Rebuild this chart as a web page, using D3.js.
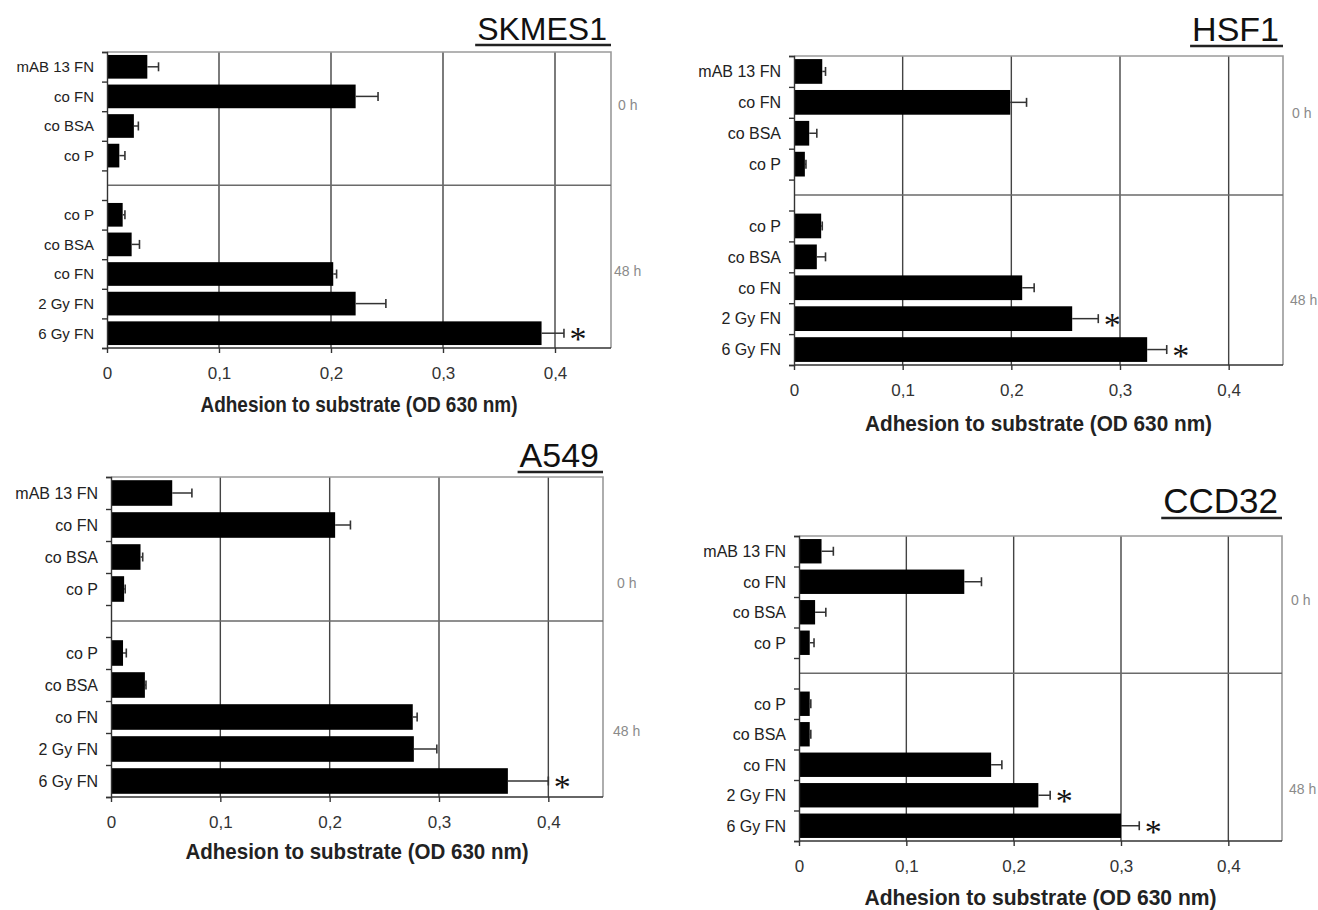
<!DOCTYPE html>
<html>
<head>
<meta charset="utf-8">
<script src="https://cdn.jsdelivr.net/npm/d3@7"></script>
<style>
body { margin: 0; background: #fff; }
svg { display: block; font-family: "Liberation Sans", Arial, sans-serif; }
</style>
</head>
<body>
<div id="container"></div>
<script>
// Row labels: the 0 h group on top, the 48 h group below
var labels0h = ['mAB 13 FN', 'co FN', 'co BSA', 'co P'];
var labels48h = ['co P', 'co BSA', 'co FN', '2 Gy FN', '6 Gy FN'];
var groupNames = ['0 h', '48 h'];
var xTicks = [0, 0.1, 0.2, 0.3, 0.4];
var xTickLabels = ['0', '0,1', '0,2', '0,3', '0,4'];
var axisTitle = 'Adhesion to substrate (OD 630 nm)';

// Means, error (SD) and significance, in row order labels0h then labels48h
var skmes1Mean = [0.036, 0.222, 0.024, 0.011, 0.014, 0.022, 0.202, 0.222, 0.388];
var skmes1Err  = [0.010, 0.020, 0.004, 0.005, 0.002, 0.007, 0.003, 0.027, 0.020];
var skmes1Sig  = [0, 0, 0, 0, 0, 0, 0, 0, 1];

var hsf1Mean = [0.026, 0.199, 0.014, 0.010, 0.025, 0.021, 0.210, 0.256, 0.325];
var hsf1Err  = [0.003, 0.015, 0.007, 0.001, 0.001, 0.008, 0.011, 0.024, 0.018];
var hsf1Sig  = [0, 0, 0, 0, 0, 0, 0, 1, 1];

var a549Mean = [0.056, 0.205, 0.027, 0.012, 0.011, 0.031, 0.276, 0.277, 0.363];
var a549Err  = [0.018, 0.014, 0.002, 0.001, 0.003, 0.001, 0.004, 0.021, 0.037];
var a549Sig  = [0, 0, 0, 0, 0, 0, 0, 0, 1];

var ccd32Mean = [0.021, 0.154, 0.015, 0.010, 0.010, 0.010, 0.179, 0.223, 0.300];
var ccd32Err  = [0.011, 0.016, 0.010, 0.004, 0.001, 0.001, 0.010, 0.011, 0.017];
var ccd32Sig  = [0, 0, 0, 0, 0, 0, 0, 1, 1];

// Panel layout (the four graphs were pasted at slightly different scales)
var panels = [
  {name: 'SKMES1', mean: skmes1Mean, err: skmes1Err, sig: skmes1Sig,
   left: 107, right: 611, top: 52, bottom: 348, titleY: 40, titleSize: 32,
   labelSize: 15, titleDy: 64, titleW: 317, groupAt: [1.8, 7.4], groupDx: [7, 3]},
  {name: 'HSF1', mean: hsf1Mean, err: hsf1Err, sig: hsf1Sig,
   left: 794, right: 1283, top: 56, bottom: 365, titleY: 41, titleSize: 34,
   labelSize: 16, titleDy: 66, titleW: 347, groupAt: [1.85, 7.9], groupDx: [9, 7]},
  {name: 'A549', mean: a549Mean, err: a549Err, sig: a549Sig,
   left: 111, right: 603, top: 477, bottom: 797, titleY: 467, titleSize: 34,
   labelSize: 16, titleDy: 62, titleW: 343, groupAt: [3.3, 7.95], groupDx: [14, 10]},
  {name: 'CCD32', mean: ccd32Mean, err: ccd32Err, sig: ccd32Sig,
   left: 799, right: 1282, top: 536, bottom: 841, titleY: 513, titleSize: 35,
   labelSize: 16, titleDy: 64, titleW: 352, groupAt: [2.1, 8.3], groupDx: [9, 7]}
];

var width = 1318, height = 910;
var svg = d3.select('#container').append('svg').attr('width', width).attr('height', height);

// 10 slots: 4 rows, one empty slot (holds the separator), 5 rows
var slotLabels = labels0h.concat(['']).concat(labels48h);
var slotOf = d3.range(labels0h.length).concat(d3.range(labels48h.length).map(function (i) { return i + labels0h.length + 1; }));

panels.forEach(function (p) {
  var g = svg.append('g');

  var x = d3.scaleLinear().domain([0, 0.45]).range([p.left, p.right]);
  var y = d3.scaleBand().domain(d3.range(slotLabels.length)).range([p.top, p.bottom])
    .paddingInner(0.2).paddingOuter(0.1);
  var step = y.step();

  // vertical gridlines
  g.selectAll('.grid').data(xTicks.slice(1)).enter().append('line')
    .attr('x1', function (d) { return x(d); }).attr('x2', function (d) { return x(d); })
    .attr('y1', p.top).attr('y2', p.bottom)
    .attr('stroke', '#444').attr('stroke-width', 1.4);

  // light frame at top and right
  g.append('path')
    .attr('d', 'M' + p.left + ',' + p.top + 'H' + p.right + 'V' + p.bottom)
    .attr('fill', 'none').attr('stroke', '#9a9a9a').attr('stroke-width', 1.6);

  // separator between 0 h and 48 h
  var sepY = p.top + step * (labels0h.length + 0.5);
  g.append('line').attr('x1', p.left).attr('x2', p.right).attr('y1', sepY).attr('y2', sepY)
    .attr('stroke', '#6a6a6a').attr('stroke-width', 1.6);

  // bars
  var rows = p.mean.map(function (m, i) {
    return {mean: m, err: p.err[i], sig: p.sig[i], slot: slotOf[i]};
  });
  g.selectAll('.bar').data(rows).enter().append('rect')
    .attr('x', x(0)).attr('y', function (d) { return y(d.slot); })
    .attr('width', function (d) { return x(d.mean) - x(0); })
    .attr('height', y.bandwidth())
    .attr('fill', '#000');

  // error bars (one sided)
  var eb = g.selectAll('.err').data(rows).enter().append('g');
  eb.append('line')
    .attr('x1', function (d) { return x(d.mean); })
    .attr('x2', function (d) { return x(d.mean + d.err); })
    .attr('y1', function (d) { return y(d.slot) + y.bandwidth() / 2; })
    .attr('y2', function (d) { return y(d.slot) + y.bandwidth() / 2; })
    .attr('stroke', '#333').attr('stroke-width', 1.5);
  eb.append('line')
    .attr('x1', function (d) { return x(d.mean + d.err); })
    .attr('x2', function (d) { return x(d.mean + d.err); })
    .attr('y1', function (d) { return y(d.slot) + y.bandwidth() / 2 - 4.5; })
    .attr('y2', function (d) { return y(d.slot) + y.bandwidth() / 2 + 4.5; })
    .attr('stroke', '#333').attr('stroke-width', 1.6);

  // significance stars
  g.selectAll('.star').data(rows.filter(function (d) { return d.sig; })).enter().append('text')
    .attr('x', function (d) { return x(d.mean + d.err) + 14; })
    .attr('y', function (d) { return y(d.slot) + y.bandwidth() / 2 + 17; })
    .attr('text-anchor', 'middle')
    .style('font-family', '"Liberation Serif", "Times New Roman", serif')
    .style('font-size', '34px')
    .attr('fill', '#111')
    .text('*');

  // left axis with ticks at slot boundaries
  var yAxis = d3.axisLeft(d3.scaleLinear().domain([0, slotLabels.length]).range([p.top, p.bottom]))
    .ticks(slotLabels.length).tickSize(5).tickFormat('');
  g.append('g').attr('transform', 'translate(' + p.left + ',0)').call(yAxis)
    .call(function (a) { a.selectAll('line,path').attr('stroke', '#333').attr('stroke-width', 1.4); });

  // row labels
  g.selectAll('.lab').data(rows).enter().append('text')
    .attr('x', p.left - 13)
    .attr('y', function (d) { return y(d.slot) + y.bandwidth() / 2; })
    .attr('dy', '0.36em')
    .attr('text-anchor', 'end')
    .style('font-size', p.labelSize + 'px')
    .attr('fill', '#222')
    .text(function (d) { return slotLabels[d.slot]; });

  // bottom axis
  var xAxis = d3.axisBottom(x).tickValues(xTicks).tickSize(5)
    .tickFormat(function (d, i) { return xTickLabels[i]; });
  g.append('g').attr('transform', 'translate(0,' + p.bottom + ')').call(xAxis)
    .call(function (a) {
      a.select('.domain').attr('d', 'M' + p.left + ',0H' + p.right).attr('stroke', '#333').attr('stroke-width', 1.4);
      a.selectAll('.tick line').attr('stroke', '#333').attr('stroke-width', 1.4);
      a.selectAll('.tick text').attr('y', 25).attr('dy', '0.36em')
        .style('font-size', '17px').style('font-family', '"Liberation Sans", Arial, sans-serif')
        .attr('fill', '#333');
    });

  // axis title
  g.append('text')
    .attr('x', (p.left + p.right) / 2).attr('y', p.bottom + p.titleDy)
    .attr('text-anchor', 'middle')
    .style('font-size', '22px').style('font-weight', 'bold')
    .attr('textLength', p.titleW).attr('lengthAdjust', 'spacingAndGlyphs')
    .attr('fill', '#222')
    .text(axisTitle);

  // group labels (0 h / 48 h) at the right
  groupNames.forEach(function (name, i) {
    g.append('text')
      .attr('x', p.right + p.groupDx[i])
      .attr('y', p.top + step * p.groupAt[i])
      .attr('dy', '0.36em')
      .style('font-size', '14px')
      .attr('fill', '#8a8a8a')
      .text(name);
  });

  // panel title, underlined
  var t = g.append('text')
    .attr('x', p.right - 4).attr('y', p.titleY)
    .attr('text-anchor', 'end')
    .style('font-size', p.titleSize + 'px')
    .attr('fill', '#111')
    .text(p.name);
  var tw = t.node().getComputedTextLength();
  g.append('line')
    .attr('x1', p.right - 4 - tw - 2).attr('x2', p.right)
    .attr('y1', p.titleY + 5).attr('y2', p.titleY + 5)
    .attr('stroke', '#222').attr('stroke-width', 2.5);
});
</script>
</body>
</html>
